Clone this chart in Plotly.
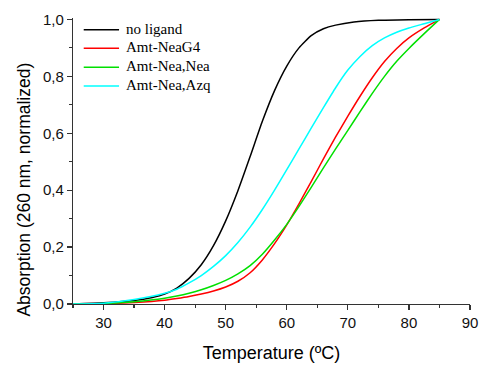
import plotly.graph_objects as go

# Data
t_noligand = [25, 30, 35, 38, 40, 42, 44, 46, 48, 50, 52, 54, 56, 58, 60, 62, 64, 66, 68, 71, 75, 80, 85]
v_noligand = [0, 0.004, 0.012, 0.023, 0.035, 0.056, 0.09, 0.138, 0.205, 0.292, 0.398, 0.518, 0.642, 0.75,
              0.836, 0.9, 0.943, 0.967, 0.98, 0.991, 0.997, 0.999, 1.0]

t_g4 = [25, 30, 35, 40, 42, 44, 46, 48, 50, 52, 54, 56, 58, 60, 62, 64, 66, 68, 70, 72, 74, 76, 78, 80, 82.5, 85]
v_g4 = [0, 0.001, 0.005, 0.013, 0.019, 0.026, 0.035, 0.046, 0.06, 0.08, 0.11, 0.155, 0.212, 0.278, 0.352,
        0.43, 0.51, 0.587, 0.66, 0.73, 0.795, 0.852, 0.898, 0.935, 0.97, 1.0]

t_nea = [25, 30, 35, 40, 42, 44, 46, 48, 50, 52, 54, 56, 58, 60, 62, 64, 66, 68, 70, 72, 74, 76, 78, 80, 82.5, 85]
v_nea = [0, 0.002, 0.008, 0.02, 0.028, 0.038, 0.05, 0.065, 0.083, 0.106, 0.135, 0.175, 0.225, 0.28, 0.343,
         0.41, 0.478, 0.545, 0.61, 0.676, 0.74, 0.8, 0.853, 0.898, 0.95, 1.0]

t_azq = [25, 30, 35, 40, 42, 44, 46, 48, 50, 52, 54, 56, 58, 60, 62, 64, 66, 68, 70, 72, 74, 76, 78, 80, 82.5, 85]
v_azq = [0, 0.003, 0.016, 0.038, 0.052, 0.074, 0.1, 0.132, 0.17, 0.216, 0.27, 0.332, 0.4, 0.472, 0.545,
         0.618, 0.69, 0.76, 0.822, 0.87, 0.908, 0.935, 0.955, 0.97, 0.985, 1.0]

names = ["no ligand", "Amt-NeaG4", "Amt-Nea,Nea", "Amt-Nea,Azq"]
colors = ["#000000", "#ff0000", "#00e000", "#00ffff"]

x_ticks = [30, 40, 50, 60, 70, 80, 90]
y_ticks = [0, 0.2, 0.4, 0.6, 0.8, 1.0]

fig = go.Figure()
for name, t, v, c in zip(names, [t_noligand, t_g4, t_nea, t_azq],
                         [v_noligand, v_g4, v_nea, v_azq], colors):
    fig.add_trace(go.Scatter(x=t, y=v, mode="lines", name=name, showlegend=False, hoverinfo="skip",
                             line=dict(color=c, width=1.5, shape="spline", smoothing=0.5)))

# Legend drawn as line samples + labels (paper coordinates)
shapes = []
annotations = []
row_y = [0.959, 0.894, 0.828, 0.762]
for name, c, yy in zip(names, colors, row_y):
    shapes.append(dict(type="line", xref="paper", yref="paper", x0=0.027, x1=0.116, y0=yy, y1=yy,
                       line=dict(color=c, width=1.5)))
    annotations.append(dict(text=name, xref="paper", yref="paper", x=0.128, y=yy, xanchor="left",
                            yanchor="middle", yshift=1, showarrow=False,
                            font=dict(family="Liberation Serif, Times New Roman", size=15, color="#000000")))

annotations.append(dict(text="Absorption (260 nm, normalized)", textangle=-90,
                        x=0, xref="paper", xanchor="center", xshift=-49,
                        y=0.40, yref="paper", yanchor="middle", showarrow=False,
                        font=dict(family="Liberation Sans, Arial", size=17.5, color="#000000")))

axis_common = dict(showgrid=False, zeroline=False, showline=True, linecolor="#333333",
                   linewidth=1.2, ticks="outside", ticklen=5, tickwidth=1.2, tickcolor="#333333",
                   tickfont=dict(family="Liberation Sans, Arial", size=15, color="#111111"),
                   mirror=False)

fig.update_layout(
    width=489, height=371,
    margin=dict(l=73, r=11, t=16, b=59),
    plot_bgcolor="white", paper_bgcolor="white",
    separators=",.",
    showlegend=False,
    hovermode=False,
    xaxis=dict(range=[25, 90], tickvals=x_ticks,
               minor=dict(ticks="outside", ticklen=3, tickwidth=1.2, tickcolor="#333333", dtick=5, tick0=25),
               title=dict(text="Temperature (ºC)", font=dict(family="Liberation Sans, Arial", size=18, color="#000000"), standoff=16),
               **axis_common),
    yaxis=dict(range=[0, 1.005], tickvals=y_ticks, tickformat=".1f",
               minor=dict(ticks="outside", ticklen=3, tickwidth=1.2, tickcolor="#333333", dtick=0.1, tick0=0),
               **axis_common),
    shapes=shapes,
    annotations=annotations,
)

# remove the default 8px page margin so the figure fills the window exactly
fig.write_html("out.html", config={"displayModeBar": False, "staticPlot": True},
               post_script="document.body.style.margin='0px';")
